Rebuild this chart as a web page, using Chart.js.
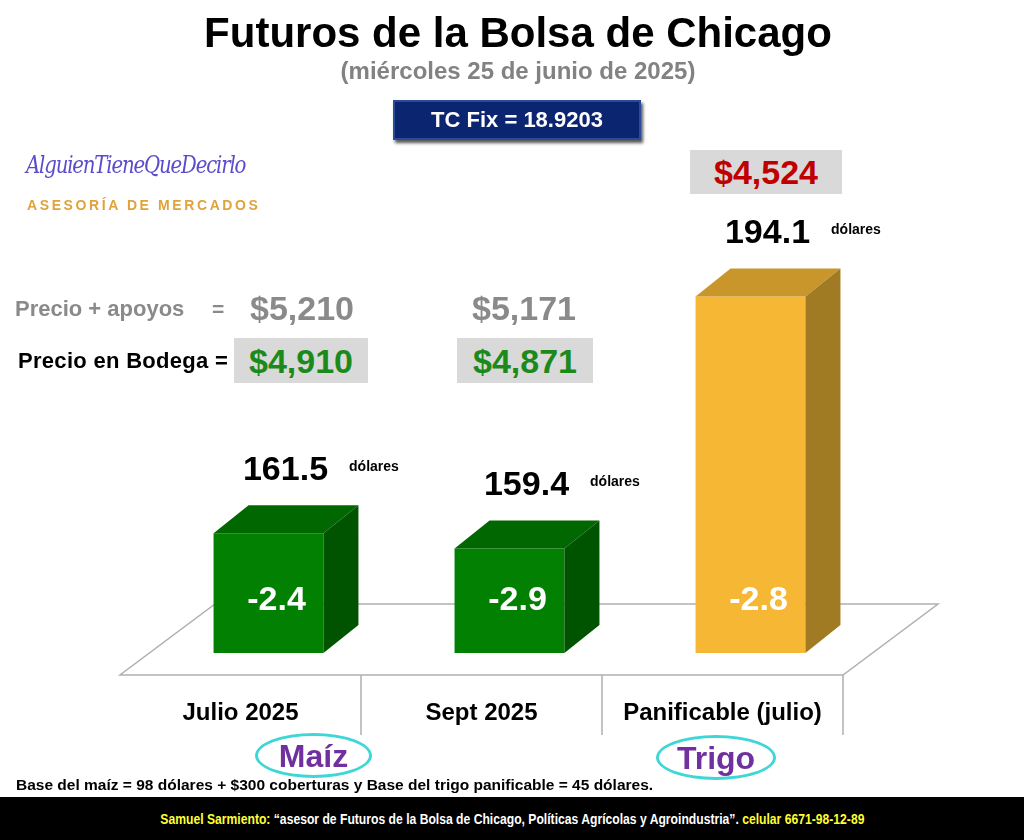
<!DOCTYPE html>
<html lang="es">
<head>
<meta charset="utf-8">
<title>Futuros de la Bolsa de Chicago</title>
<script src="https://cdn.jsdelivr.net/npm/chart.js@4.4.1/dist/chart.umd.min.js"></script>
<style>
  html, body { margin: 0; padding: 0; background: #fff; }
  #wrap { position: relative; width: 1024px; height: 840px; overflow: hidden; font-family: "Liberation Sans", Arial, sans-serif; }
  #chart { position: absolute; left: 0; top: 0; }
  .t { position: absolute; white-space: nowrap; font-weight: bold; line-height: 1; }
  .c { text-align: center; }
  .box { position: absolute; background: #d9d9d9; display: flex; align-items: center; justify-content: center; font-weight: bold; font-size: 34px; line-height: 1; }
  .oval { position: absolute; border: 3px solid #3fd6d8; border-radius: 50%; display: flex; align-items: center; justify-content: center; color: #7030a0; font-weight: bold; font-size: 32px; line-height: 1; box-sizing: border-box; }
</style>
</head>
<body>
<div id="wrap">
  <canvas id="chart" width="1024" height="840"></canvas>

  <div class="t c" style="left:0;width:1036px;top:12px;font-size:42px;color:#000;">Futuros de la Bolsa de Chicago</div>
  <div class="t c" style="left:0;width:1036px;top:59px;font-size:24px;color:#828282;">(miércoles 25 de junio de 2025)</div>
  <div style="position:absolute;left:393px;top:100px;width:248px;height:40px;background:#0b2570;border:2px solid #2a4a9a;box-sizing:border-box;box-shadow:2px 3px 3px #555;display:flex;align-items:center;justify-content:center;color:#fff;font-weight:bold;font-size:22px;">TC Fix = 18.9203</div>

  <div class="t" style="left:26px;top:152px;font-size:25px;font-weight:normal;font-style:italic;font-family:'DejaVu Serif',serif;color:#5b4ccc;letter-spacing:-1.5px;transform:scaleX(0.79);transform-origin:left;">AlguienTieneQueDecirlo</div>
  <div class="t" style="left:27px;top:198px;font-size:14px;color:#e0a33c;letter-spacing:2.6px;">ASESORÍA DE MERCADOS</div>

  <div class="t" style="left:15px;top:298px;font-size:22px;color:#8a8a8a;">Precio + apoyos</div>
  <div class="t" style="left:212px;top:298px;font-size:21px;color:#8a8a8a;">=</div>
  <div class="t" style="left:250px;top:291px;font-size:34px;color:#8a8a8a;" id="apoyo0"></div>
  <div class="t" style="left:472px;top:291px;font-size:34px;color:#8a8a8a;" id="apoyo1"></div>

  <div class="t" style="left:18px;top:350px;font-size:22px;color:#000;letter-spacing:0.3px;">Precio en Bodega =</div>
  <div class="box" style="left:234px;top:338px;width:134px;height:45px;color:#1b8a1b;" id="bodega0"></div>
  <div class="box" style="left:457px;top:338px;width:136px;height:45px;color:#1b8a1b;" id="bodega1"></div>

  <div class="box" style="left:690px;top:150px;width:152px;height:44px;color:#c00000;" id="trigoPeso"></div>

  <div class="oval" style="left:255px;top:733px;width:117px;height:45px;">Maíz</div>
  <div class="oval" style="left:656px;top:735px;width:120px;height:45px;">Trigo</div>

  <div class="t" style="left:16px;top:777px;font-size:15.5px;color:#000;">Base del maíz = 98 dólares + $300 coberturas y Base del trigo panificable = 45 dólares.</div>

  <div style="position:absolute;left:0;top:797px;width:1024px;height:43px;background:#000;"></div>
  <div class="t c" style="left:0;width:1024px;top:811px;font-size:15px;color:#fff;transform:scaleX(0.81);transform-origin:514px 0;"><span style="color:#ffff33;">Samuel Sarmiento:</span> “asesor de Futuros de la Bolsa de Chicago, Políticas Agrícolas y Agroindustria”. <span style="color:#ffff33;">celular 6671-98-12-89</span></div>
</div>

<script>
  // datos
  const categories = ['Julio 2025', 'Sept 2025', 'Panificable (julio)'];
  const prices = [161.5, 159.4, 194.1];
  const changes = [-2.4, -2.9, -2.8];
  const precioApoyos = ['$5,210', '$5,171'];
  const precioBodega = ['$4,910', '$4,871'];
  const precioTrigo = '$4,524';

  // colores de las caras
  const frontColors = ['#018001', '#018001', '#f6b734'];
  const topColors = ['#016801', '#016801', '#c9962b'];
  const sideColors = ['#005400', '#005400', '#a17a24'];

  document.getElementById('apoyo0').textContent = precioApoyos[0];
  document.getElementById('apoyo1').textContent = precioApoyos[1];
  document.getElementById('bodega0').textContent = precioBodega[0];
  document.getElementById('bodega1').textContent = precioBodega[1];
  document.getElementById('trigoPeso').textContent = precioTrigo;

  const DX = 35, DY = 28;          // profundidad de los cubos
  const FLOOR_SHIFT = -28;         // el piso empieza un poco a la izquierda
  const FLOOR_DROP = 22;           // borde frontal del piso bajo las barras

  const cube3d = {
    id: 'cube3d',
    beforeDatasetsDraw(chart) {
      const { ctx, chartArea: a } = chart;
      const left = a.left + FLOOR_SHIFT;
      const right = a.right + FLOOR_SHIFT;
      const fy = a.bottom + FLOOR_DROP;
      const step = (right - left) / categories.length;

      ctx.save();
      ctx.strokeStyle = '#b0b0b0';
      ctx.lineWidth = 1.5;
      ctx.beginPath();
      ctx.moveTo(left, fy);
      ctx.lineTo(right, fy);
      ctx.lineTo(right + 95, fy - 71);
      ctx.lineTo(left + 95, fy - 71);
      ctx.closePath();
      ctx.stroke();

      ctx.beginPath();
      for (let i = 1; i <= categories.length; i++) {
        const x = left + step * i;
        ctx.moveTo(x, fy);
        ctx.lineTo(x, fy + 60);
      }
      ctx.stroke();

      ctx.fillStyle = '#000';
      ctx.font = 'bold 24px "Liberation Sans", Arial, sans-serif';
      ctx.textAlign = 'center';
      ctx.textBaseline = 'alphabetic';
      categories.forEach((c, i) => ctx.fillText(c, left + step * (i + 0.5), 720));
      ctx.restore();
    },
    afterDatasetsDraw(chart) {
      const { ctx, chartArea } = chart;
      const meta = chart.getDatasetMeta(0);
      ctx.save();
      meta.data.forEach((bar, i) => {
        const half = bar.width / 2;
        const x0 = bar.x - half, x1 = bar.x + half;
        const top = bar.y, base = Math.min(bar.base, chartArea.bottom);

        ctx.fillStyle = topColors[i];
        ctx.beginPath();
        ctx.moveTo(x0, top);
        ctx.lineTo(x0 + DX, top - DY);
        ctx.lineTo(x1 + DX, top - DY);
        ctx.lineTo(x1, top);
        ctx.closePath();
        ctx.fill();

        ctx.fillStyle = sideColors[i];
        ctx.beginPath();
        ctx.moveTo(x1, top);
        ctx.lineTo(x1 + DX, top - DY);
        ctx.lineTo(x1 + DX, base - DY);
        ctx.lineTo(x1, base);
        ctx.closePath();
        ctx.fill();

        // precio en dólares
        const ly = top - DY - 35;
        ctx.fillStyle = '#000';
        ctx.font = 'bold 34px "Liberation Sans", Arial, sans-serif';
        ctx.textAlign = 'center';
        ctx.textBaseline = 'middle';
        const txt = prices[i].toFixed(1);
        const lx = bar.x + 17;
        ctx.fillText(txt, lx, ly);
        const w = ctx.measureText(txt).width;
        ctx.font = 'bold 14px "Liberation Sans", Arial, sans-serif';
        ctx.textAlign = 'left';
        ctx.fillText('dólares', lx + w / 2 + 21, ly - 3);

        // cambio del día
        ctx.fillStyle = '#fff';
        ctx.font = 'bold 34px "Liberation Sans", Arial, sans-serif';
        ctx.textAlign = 'center';
        ctx.fillText(changes[i].toFixed(1), bar.x + 8, base - 52);
      });
      ctx.restore();
    }
  };

  const ctx = document.getElementById('chart').getContext('2d');
  new Chart(ctx, {
    type: 'bar',
    data: {
      labels: categories,
      datasets: [{
        data: prices,
        backgroundColor: frontColors,
        borderWidth: 0,
        categoryPercentage: 1,
        barPercentage: 0.456
      }]
    },
    options: {
      responsive: false,
      animation: false,
      devicePixelRatio: 1,
      layout: { padding: { left: 148, right: 153, top: 290, bottom: 187 } },
      plugins: { legend: { display: false }, tooltip: { enabled: false } },
      scales: {
        x: { display: false },
        y: { display: false, min: 145, max: 195 }
      }
    },
    plugins: [cube3d]
  });
</script>
</body>
</html>
